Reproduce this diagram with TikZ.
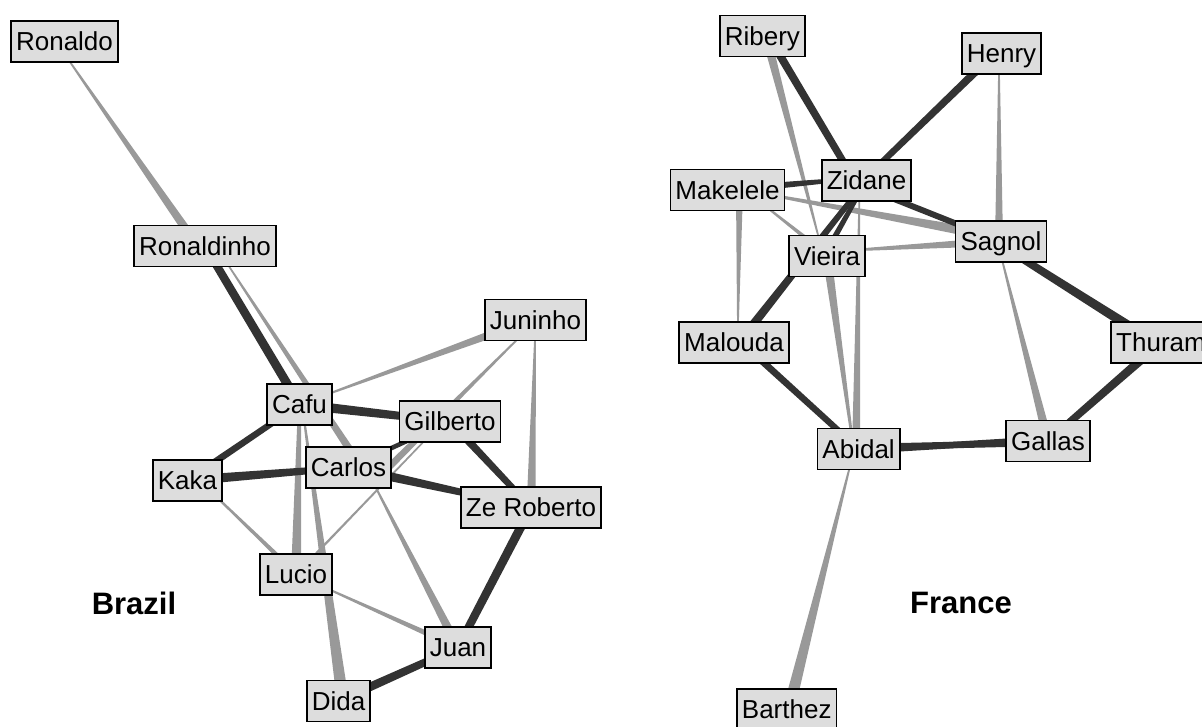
\documentclass[tikz,border=0pt]{standalone}
\usepackage{fontspec}
\setmainfont{Liberation Sans}
\usetikzlibrary{calc}
\pgfdeclarelayer{background}
\pgfsetlayers{background,main}

\definecolor{dk}{HTML}{333333}
\definecolor{lt}{HTML}{999999}
\definecolor{boxfill}{HTML}{DDDDDD}

% tapered link: #1 start, #2 end, #3 width at start (px), #4 width at end (px), #5 colour
\newcommand\lnk[5]{%
  \coordinate (lkA) at ($#1$);
  \coordinate (lkB) at ($#2$);
  \pgfmathsetlengthmacro\lkwa{#3*0.375pt}%
  \pgfmathsetlengthmacro\lkwb{#4*0.375pt}%
  \fill[#5] ($(lkA)!\lkwa!90:(lkB)$) -- ($(lkB)!\lkwb!-90:(lkA)$)
            -- ($(lkB)!\lkwb!90:(lkA)$) -- ($(lkA)!\lkwa!-90:(lkB)$) -- cycle;
}

\tikzset{
  player/.style={draw=black, fill=boxfill, line width=1.2pt, rectangle,
    inner xsep=3.75pt, inner ysep=0pt, minimum height=30.75pt,
    text height=14pt, text depth=0pt,
    font=\fontsize{19.5pt}{23pt}\selectfont},
  teamname/.style={font=\fontsize{23.25pt}{28pt}\selectfont\bfseries}
}

\begin{document}
\begin{tikzpicture}[x=0.75pt, y=-0.75pt]
\useasboundingbox (0,0) rectangle (1202,727);

% ---- Brazil ----
\node[player] (ronaldo)    at (64.5,41.5)  {Ronaldo};
\node[player] (ronaldinho) at (205,246)    {Ronaldinho};
\node[player] (juninho)    at (535.5,320)  {Juninho};
\node[player] (cafu)       at (299.5,404.5){Cafu};
\node[player] (gilberto)   at (450,421.5)  {Gilberto};
\node[player] (carlos)     at (348.5,467.5){Carlos};
\node[player] (kaka)       at (187.5,480.5){Kaka};
\node[player] (zeroberto)  at (531,507.5)  {Ze Roberto};
\node[player] (lucio)      at (296,574.5)  {Lucio};
\node[player] (juan)       at (458,647.5)  {Juan};
\node[player] (dida)       at (338.5,701)  {Dida};
\node[teamname] (brazil)   at (134,603)    {Brazil};

% ---- France ----
\node[player] (ribery)   at (762.4,36)    {Ribery};
\node[player] (henry)    at (1001.5,53.5) {Henry};
\node[player] (zidane)   at (866.5,180.5) {Zidane};
\node[player] (makelele) at (727.5,190)   {Makelele};
\node[player] (sagnol)   at (1001,241.5)  {Sagnol};
\node[player] (vieira)   at (827,256)     {Vieira};
\node[player] (malouda)  at (734,342.5)   {Malouda};
\node[player] (thuram)   at (1161,342.5)  {Thuram};
\node[player] (abidal)   at (858.6,449)   {Abidal};
\node[player] (gallas)   at (1048,441)    {Gallas};
\node[player] (barthez)  at (786.7,709.5) {Barthez};
\node[teamname] (france) at (961,603)     {France};

\begin{pgfonlayer}{background}
\fill[white] (0,0) rectangle (1202,727);
% Brazil, light links
\lnk{(ronaldo)+(-8.7,0)}{(ronaldinho)+(-7.5,0)}{1}{9}{lt}
\lnk{(ronaldinho)+(10.6,0)}{(carlos)+(13,0)}{1}{8}{lt}
\lnk{(cafu)}{(juninho)+(0,-2)}{1}{9}{lt}
\lnk{(juninho)+(1.3,0)}{(carlos)+(40,0)}{1}{7}{lt}
\lnk{(gilberto)+(-7,0)}{(lucio)}{1.5}{2.5}{lt}
\lnk{(juninho)}{(zeroberto)}{1}{9}{lt}
\lnk{(cafu)}{(lucio)}{3}{10}{lt}
\lnk{(cafu)+(2.5,0)}{(dida)+(4.4,0)}{1.5}{12}{lt}
\lnk{(carlos)+(17,0)}{(juan)}{1}{9}{lt}
\lnk{(kaka)+(12,0)}{(lucio)+(1,0)}{1.5}{5}{lt}
\lnk{(lucio)}{(juan)}{1}{6}{lt}
% Brazil, dark links
\lnk{(ronaldinho)}{(cafu)}{8}{9}{dk}
\lnk{(cafu)}{(gilberto)}{10}{7}{dk}
\lnk{(kaka)}{(cafu)}{7}{6}{dk}
\lnk{(kaka)}{(carlos)}{10}{6}{dk}
\lnk{(carlos)}{(gilberto)}{5}{4}{dk}
\lnk{(gilberto)}{(zeroberto)}{8}{6}{dk}
\lnk{(carlos)}{(zeroberto)}{10}{5}{dk}
\lnk{(juan)}{(dida)}{7}{9}{dk}
\lnk{(zeroberto)}{(juan)}{9}{8}{dk}

% France, light links
\lnk{(ribery)+(3.6,0)}{(vieira)+(-3.5,0)}{9}{1}{lt}
\lnk{(vieira)}{(abidal)+(-5,0)}{9}{2}{lt}
\lnk{(zidane)+(-7,0)}{(abidal)+(-2.6,0)}{1}{8}{lt}
\lnk{(makelele)+(0,-3)}{(sagnol)+(0,-4)}{1}{11}{lt}
\lnk{(vieira)+(0,-4.4)}{(sagnol)}{1}{9}{lt}
\lnk{(makelele)+(17.5,0)}{(vieira)+(1.5,0)}{1}{5}{lt}
\lnk{(makelele)+(12,0)}{(malouda)+(3.7,0)}{7}{1}{lt}
\lnk{(henry)+(-2.5,0)}{(sagnol)+(-2,0)}{1}{8}{lt}
\lnk{(sagnol)+(-3.6,0)}{(gallas)}{1}{9}{lt}
\lnk{(abidal)+(-4.3,0)}{(barthez)+(2,0)}{1}{12}{lt}
% France, dark links
\lnk{(ribery)+(6,0)}{(zidane)+(-12,0)}{8}{7}{dk}
\lnk{(makelele)}{(zidane)+(0,-3)}{8}{3}{dk}
\lnk{(zidane)+(0,7.5)}{(sagnol)}{6}{6}{dk}
\lnk{(zidane)}{(malouda)+(5,0)}{5}{9}{dk}
\lnk{(zidane)}{(vieira)+(-3,0)}{4}{6}{dk}
\lnk{(malouda)+(7.6,0)}{(abidal)}{7}{6}{dk}
\lnk{(henry)+(-7,0)}{(zidane)+(-3.5,0)}{8}{6}{dk}
\lnk{(sagnol)+(-6,0)}{(thuram)+(-6,0)}{7}{10}{dk}
\lnk{(thuram)}{(gallas)}{9}{7}{dk}
\lnk{(abidal)}{(gallas)}{10}{3}{dk}
\lnk{(gallas)}{(abidal)}{10}{3}{dk}
\end{pgfonlayer}
\end{tikzpicture}
\end{document}
